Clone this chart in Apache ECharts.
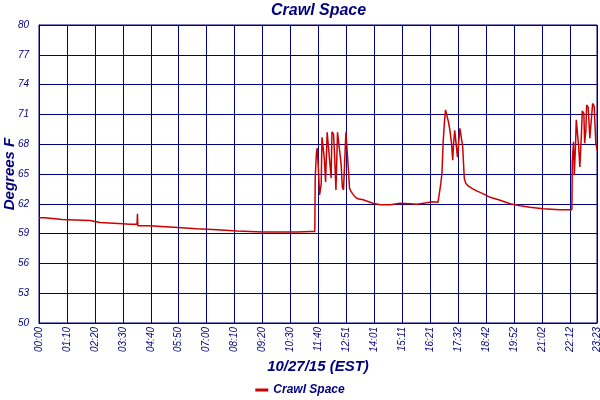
<!DOCTYPE html>
<html>
<head>
<meta charset="utf-8">
<script src="https://cdn.jsdelivr.net/npm/echarts@6/dist/echarts.min.js"></script>
<style>html,body{margin:0;padding:0;background:#fff}#c{width:600px;height:400px}</style>
</head>
<body>
<div id="c"></div>
<script>
// minutes since 00:00 on 10/27/15
var times = [0,15,40,58,128,153,210,228,246,247,248,276,329,396,447,497,562,647,680,692,
  693,696,698,701,704,708,710,713,716,719,722,723,728,730,733,735,739,742,745,749,753,758,761,764,767,770,774,777,779,782,787,793,800,813,838,856,
  881,906,931,948,973,986,1001,1006,1008,1011,1014,1017,1020,1024,1027,1031,1035,1038,1040,1043,1046,1050,1052,1056,1060,1063,1067,1071,1077,1086,1098,1115,1132,1157,1182,1207,1232,1265,1307,1337,
  1338,1341,1343,1346,1348,1351,1354,1357,1361,1363,1367,1369,1372,1374,1378,1382,1386,1389,1393,1397,1400];
var temps = [60.59,60.6,60.5,60.42,60.31,60.12,60.0,59.94,59.94,61.0,59.8,59.8,59.67,59.5,59.4,59.27,59.17,59.17,59.2,59.2,
  64.6,67.1,67.6,65.5,62.9,64.0,68.7,68.6,66.5,64.2,64.0,69.2,69.2,66.0,64.6,69.25,69.0,66.5,63.4,69.2,69.1,66.0,63.7,63.4,63.3,69.2,69.0,65.0,63.6,63.3,63.0,62.7,62.5,62.4,62.05,61.9,
  61.9,62.05,62.0,61.95,62.1,62.2,62.15,62.2,64.0,65.1,68.2,70.1,71.45,71.4,70.3,69.4,68.1,66.4,67.9,69.4,69.3,66.7,67.7,69.6,69.5,67.75,64.55,64.05,63.8,63.55,63.3,63.0,62.65,62.35,62.0,61.8,61.65,61.5,61.4,61.4,
  66.2,68.25,64.9,67.75,70.45,70.6,67.75,65.7,69.1,71.35,71.1,68.1,69.3,71.95,71.7,68.6,70.6,72.1,71.8,68.1,67.4];
var tickLabels = ['00:00','01:10','02:20','03:30','04:40','05:50','07:00','08:10','09:20','10:30','11:40',
  '12:51','14:01','15:11','16:21','17:32','18:42','19:52','21:02','22:12','23:23'];
var seriesName = 'Crawl Space';

var navy = '#000080';
var fontFam = 'Liberation Sans';
var chart = echarts.init(document.getElementById('c'));
var pts = times.map(function(t, i){ return [t, temps[i]]; });
chart.setOption({
  animation: false,
  backgroundColor: '#fff',
  graphic: [{
    type: 'text', left: 271, top: 3,
    style: { text: 'Crawl Space', fill: navy, font: 'italic bold 16px ' + fontFam }
  }],
  legend: {
    data: [seriesName], bottom: -1, left: 'center', icon: 'rect', itemWidth: 13, itemHeight: 3, itemGap: 4,
    textStyle: { color: navy, fontStyle: 'italic', fontWeight: 'bold', fontSize: 12, fontFamily: fontFam }
  },
  grid: { left: 39, right: 3, top: 25, bottom: 77, containLabel: false, outerBoundsMode: 'none',
    show: true, borderColor: navy, borderWidth: 1 },
  xAxis: {
    type: 'value', min: 0, max: 1400, interval: 70.1,
    name: '10/27/15 (EST)', nameLocation: 'middle', nameGap: 36, nameMoveOverlap: false,
    nameTextStyle: { color: navy, fontStyle: 'italic', fontWeight: 'bold', fontSize: 15, fontFamily: fontFam },
    axisLine: { lineStyle: { color: navy, width: 1 } },
    axisTick: { show: false },
    splitLine: { show: true, lineStyle: { color: navy, width: 1 } },
    axisLabel: {
      rotate: 90, color: navy, fontStyle: 'italic', fontSize: 10, fontFamily: fontFam, margin: 4,
      showMaxLabel: true, showMinLabel: true,
      formatter: function(v, i){ return tickLabels[i] !== undefined ? tickLabels[i] : ''; }
    }
  },
  yAxis: {
    type: 'value', min: 50, max: 80, interval: 3,
    name: 'Degrees F', nameLocation: 'middle', nameGap: 22, nameMoveOverlap: false,
    nameTextStyle: { color: navy, fontStyle: 'italic', fontWeight: 'bold', fontSize: 15, fontFamily: fontFam },
    axisLine: { lineStyle: { color: navy, width: 1 } },
    axisTick: { show: false },
    splitLine: { show: true, lineStyle: { color: navy, width: 1 } },
    axisLabel: { color: navy, fontStyle: 'italic', fontSize: 10, fontFamily: fontFam, margin: 10 }
  },
  series: [{
    name: seriesName, type: 'line', data: pts, showSymbol: false, symbol: 'none',
    lineStyle: { color: '#cc0000', width: 1.5 }, itemStyle: { color: '#cc0000' }
  }]
});
</script>
</body>
</html>
